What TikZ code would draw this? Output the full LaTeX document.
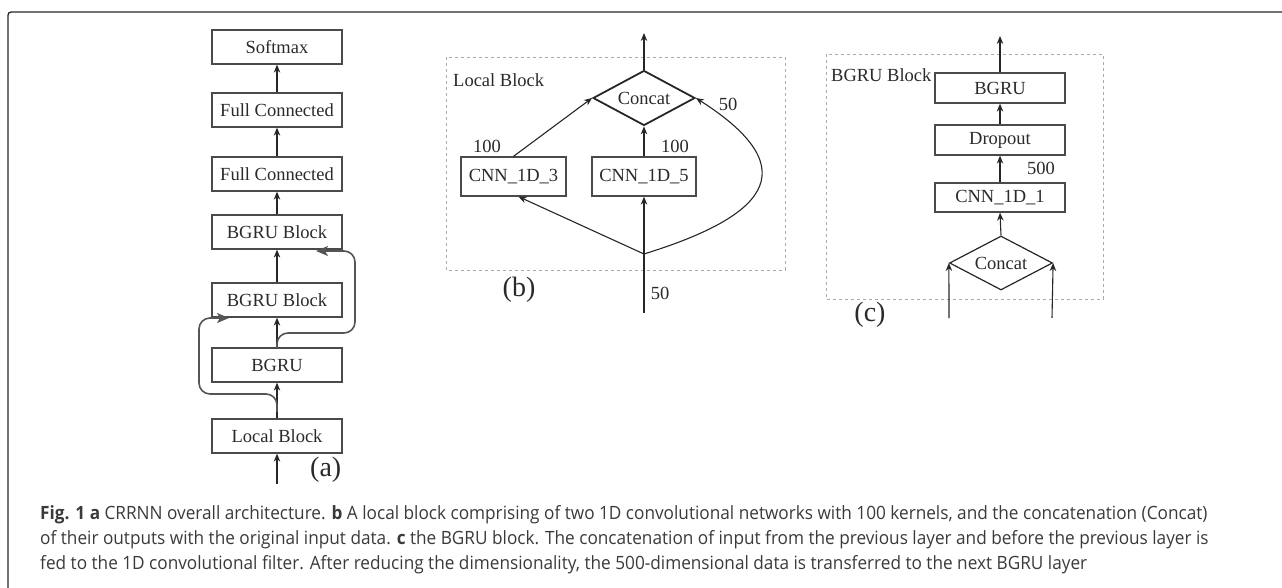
\documentclass[tikz,border=0pt]{standalone}
\usepackage{fontspec}
\setmainfont{Liberation Serif}
\newfontfamily\capfont[FakeStretch=0.94]{Open Sans}
\usetikzlibrary{arrows.meta,shapes.geometric}
\definecolor{ink}{HTML}{2A2A2A}
\definecolor{edge}{HTML}{4A4A4A}
\definecolor{skipc}{HTML}{555555}
\definecolor{dashc}{HTML}{AAAAAA}
\definecolor{capc}{HTML}{3A3A3A}
\tikzset{
  box/.style={draw=edge, line width=1.3pt, minimum width=130pt, minimum height=34pt,
    inner sep=0pt, text=ink, font=\fontsize{18.5}{20}\selectfont},
  diam/.style={diamond, draw=black!85, inner sep=0pt, aspect=1.85, text=ink,
    font=\fontsize{18.5}{20}\selectfont},
  arr/.style={-{Stealth[length=8pt,width=6.5pt]}, line width=1.1pt, draw=black!85},
  skiparr/.style={line width=1.6pt, draw=skipc},
  skiptip/.style={-{Stealth[length=12pt,width=10pt,inset=3pt]}, line width=1.6pt, draw=skipc},
  lbl/.style={text=ink, inner sep=0pt, font=\fontsize{18.5}{20}\selectfont},
  tag/.style={text=ink, inner sep=0pt, font=\fontsize{28}{30}\selectfont},
  dashbox/.style={draw=dashc, dashed, line width=0.8pt},
  capline/.style={anchor=base west, inner sep=0pt, text=capc,
    font=\capfont\fontsize{18.3}{20}\selectfont},
}
\begin{document}
\begin{tikzpicture}[x=1pt, y=-1pt]
\useasboundingbox (0,0) rectangle (1282,588);

% outer frame: dark top rule, grey left rule
\draw[black!85, line width=1.3pt] (1282,12) -- (15,12) .. controls (8,12) .. (8,19);
\draw[black!55, line width=1.3pt] (8,19) -- (8,588);

% ---------- (a) overall architecture ----------
\node[box] (soft) at (277,47)  {Softmax};
\node[box] (fc1)  at (277,110) {Full Connected};
\node[box] (fc2)  at (277,174) {Full Connected};
\node[box] (bb1)  at (277,232) {BGRU Block};
\node[box] (bb2)  at (277,300) {BGRU Block};
\node[box] (gru)  at (277,365) {BGRU};
\node[box] (loc)  at (277,436) {Local Block};
\coordinate (ain) at (277,484);
\node[tag, anchor=west] (ta) at (310,470) {(a)};

\draw[arr] (ain) -- (loc.south);
\draw[arr] (loc.north) -- (gru.south);
\draw[arr] (gru.north) -- (bb2.south);
\draw[arr] (bb2.north) -- (bb1.south);
\draw[arr] (bb1.north) -- (fc2.south);
\draw[arr] (fc2.north) -- (fc1.south);
\draw[arr] (fc1.north) -- (soft.south);

% skip connections (rounded route, then a straight arrowed end)
\coordinate (sk1a) at (277,412);
\coordinate (sk1b) at (199,394);
\coordinate (sk1c) at (199,318);
\coordinate (sk1e) at (212,318);
\coordinate (sk1d) at (229,318);
\draw[skiparr, rounded corners=11pt] (sk1a) |- (sk1b) -- (sk1c) -- (sk1e);
\draw[skiptip] (sk1e) -- (sk1d);

\coordinate (sk2a) at (277,348);
\coordinate (sk2b) at (355,333);
\coordinate (sk2c) at (355,251);
\coordinate (sk2e) at (342,251);
\coordinate (sk2d) at (316,251);
\draw[skiparr, rounded corners=11pt] (sk2a) |- (sk2b) -- (sk2c) -- (sk2e);
\draw[skiptip] (sk2e) -- (sk2d);

% ---------- (b) local block ----------
\draw[dashbox] (446,57) rectangle (785,270);
\node[lbl, anchor=west] (lbT) at (453,80) {Local Block};
\node[diam, line width=1.8pt, minimum width=102pt, minimum height=55pt] (cb) at (644,98) {Concat};
\node[box, minimum width=105pt, minimum height=39pt] (c3) at (513.5,176.5) {CNN\_1D\_3};
\node[box, minimum width=104pt, minimum height=39pt] (c5) at (644,176.5) {CNN\_1D\_5};
\node[lbl] (n100a) at (487,146) {100};
\node[lbl] (n100b) at (675,146) {100};
\node[lbl] (n50a) at (728,104) {50};
\node[lbl] (n50b) at (660,293) {50};
\node[tag] (tb) at (519,290) {(b)};

\coordinate (bin) at (644,313);
\coordinate (bsplit) at (644,254);
\coordinate (bout) at (644,33);
\draw[arr] (bin) -- (c5.south);
\draw[arr] (bsplit) -- ([xshift=5pt]c3.south);
\draw[arr] (bsplit) .. controls (760,218) and (812,172) .. (cb.east);
\draw[arr] (c3.north) -- (cb.west);
\draw[arr] (c5.north) -- (cb.south);
\draw[arr] (cb.north) -- (bout);

% ---------- (c) BGRU block ----------
\draw[dashbox] (826,54) rectangle (1103,299);
\node[lbl, anchor=west] (lcT) at (831,75) {BGRU Block};
\node[box, minimum height=30pt] (g)  at (1000,88)   {BGRU};
\node[box, minimum height=30pt] (dp) at (1000,140)  {Dropout};
\node[box, minimum height=29pt] (c1) at (1000,197.5){CNN\_1D\_1};
\node[diam, line width=1.2pt, minimum width=103pt, minimum height=54pt] (cc) at (1001,263) {Concat};
\node[lbl] (n500) at (1041,168) {500};
\node[tag] (tc) at (870,315) {(c)};

\coordinate (cinL) at (949,318);
\coordinate (cinR) at (1052,318);
\coordinate (cout) at (1000,36);
\draw[arr] (cinL) -- (cc.west);
\draw[arr] (cinR) -- (cc.east);
\draw[arr] (cc.north) -- (c1.south);
\draw[arr] (c1.north) -- (dp.south);
\draw[arr] (dp.north) -- (g.south);
\draw[arr] (g.north) -- (cout);

% ---------- caption ----------
\node[capline] (cap1) at (40,519) {\textbf{Fig. 1 a} CRRNN overall architecture. \textbf{b} A local block comprising of two 1D convolutional networks with 100 kernels, and the concatenation (Concat)};
\node[capline] (cap2) at (40,544) {of their outputs with the original input data. \textbf{c} the BGRU block. The concatenation of input from the previous layer and before the previous layer is};
\node[capline] (cap3) at (40,569) {fed to the 1D convolutional filter. After reducing the dimensionality, the 500-dimensional data is transferred to the next BGRU layer};
\end{tikzpicture}
\end{document}
